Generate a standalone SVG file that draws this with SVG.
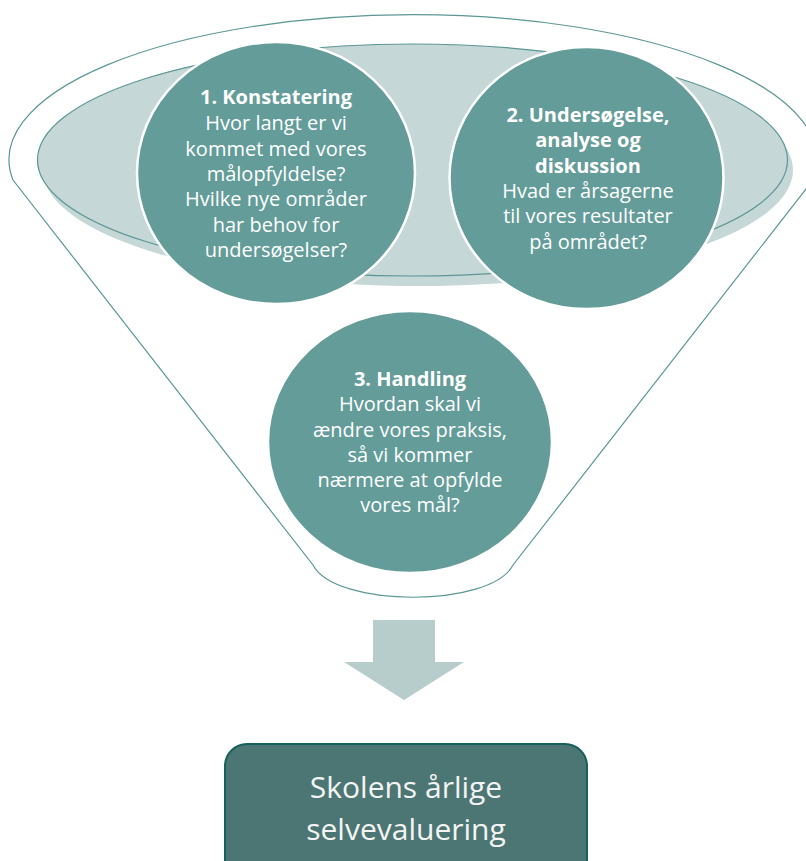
<svg xmlns="http://www.w3.org/2000/svg" width="806" height="861" viewBox="0 0 806 861">
<style>
.outline{fill:#ffffff;stroke:#5b9795;stroke-width:1.2}
.disc{fill:#c5d7d6}
.discline{fill:#c5d7d6;stroke:#5b9795;stroke-width:1.2}
.circ{fill:#639c99;stroke:#ffffff;stroke-width:2.5}
.t{font-family:"Open Sans","Noto Sans","DejaVu Sans",sans-serif;font-size:20px;fill:#ffffff;text-anchor:middle}
.b{font-weight:bold}
.big{font-family:"Open Sans","Noto Sans","DejaVu Sans",sans-serif;font-size:30px;fill:#f4f4f4;text-anchor:middle}
.arrow{fill:#b6cdcb}
.box{fill:#4c7673;stroke:#17605c;stroke-width:2}
</style>
<rect x="0" y="0" width="806" height="861" fill="#ffffff"/>
<g id="funnel">
  <path class="outline" d="M 13,180 A 404,145 0 1 1 813,180 L 513,565 C 491,608 335,608 313,565 Z"/>
  <ellipse class="disc" cx="418" cy="170" rx="375" ry="116"/>
  <ellipse class="discline" cx="412.5" cy="160" rx="375" ry="116"/>
</g>
<g id="node1">
  <ellipse class="circ" cx="276" cy="173" rx="139" ry="131"/>
  <text class="t"><tspan class="b" x="276" y="104">1. Konstatering</tspan><tspan x="276" y="130">Hvor langt er vi</tspan><tspan x="276" y="155.5">kommet med vores</tspan><tspan x="276" y="181">målopfyldelse?</tspan><tspan x="276" y="206">Hvilke nye områder</tspan><tspan x="276" y="231.5">har behov for</tspan><tspan x="276" y="256.5">undersøgelser?</tspan></text>
</g>
<g id="node2">
  <ellipse class="circ" cx="586.5" cy="178" rx="137" ry="131"/>
  <text class="t"><tspan class="b" x="588" y="122">2. Undersøgelse,</tspan><tspan class="b" x="588" y="147">analyse og</tspan><tspan class="b" x="588" y="172.5">diskussion</tspan><tspan x="588" y="198">Hvad er årsagerne</tspan><tspan x="588" y="223">til vores resultater</tspan><tspan x="588" y="249">på området?</tspan></text>
</g>
<g id="node3">
  <ellipse class="circ" cx="410" cy="442" rx="142" ry="131"/>
  <text class="t"><tspan class="b" x="410" y="386">3. Handling</tspan><tspan x="410" y="411">Hvordan skal vi</tspan><tspan x="410" y="436.5">ændre vores praksis,</tspan><tspan x="410" y="461.5">så vi kommer</tspan><tspan x="410" y="486.5">nærmere at opfylde</tspan><tspan x="410" y="511.5">vores mål?</tspan></text>
</g>
<g id="connectors">
  <polygon class="arrow" points="373,620 435,620 435,662 464,662 404,700 344,662 373,662"/>
</g>
<g id="node4">
  <rect class="box" x="225" y="744" width="362" height="140" rx="22" ry="22"/>
  <text class="big"><tspan x="406" y="798">Skolens årlige</tspan><tspan x="406" y="840">selvevaluering</tspan></text>
</g>
</svg>
